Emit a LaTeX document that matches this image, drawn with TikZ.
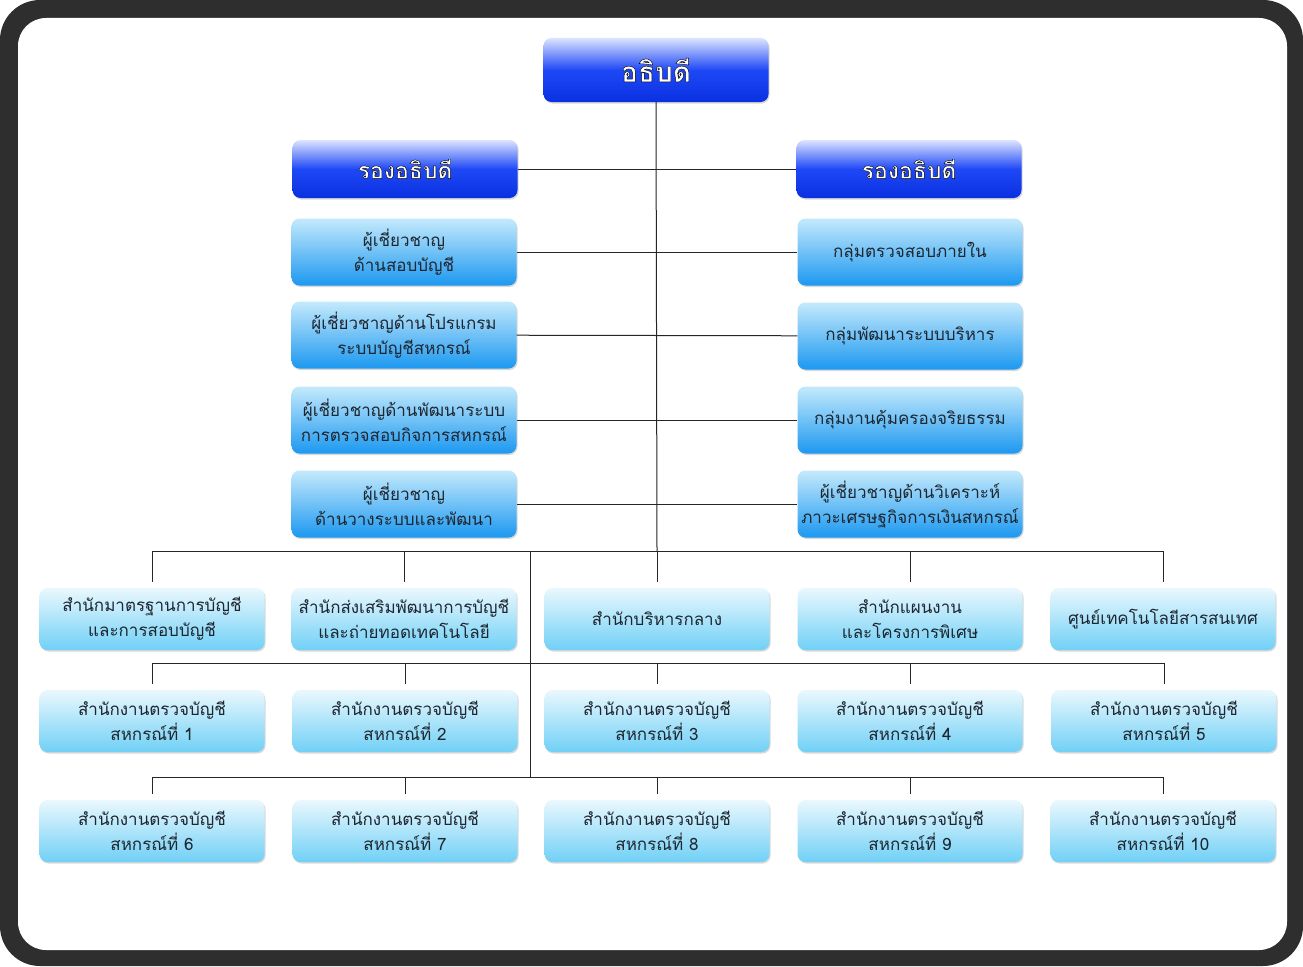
\documentclass[tikz,border=0pt]{standalone}
\usepackage{fontspec}
\usetikzlibrary{shadows}
\newfontfamily\thaifont[Script=Thai]{Loma}
\newfontfamily\headfont[Script=Thai]{Loma Bold}
\definecolor{hdtop}{HTML}{DCE4FF}
\definecolor{hdmid}{HTML}{1E48F6}
\definecolor{hdbot}{HTML}{0A30E0}
\definecolor{mdtop}{HTML}{C4EAFC}
\definecolor{mdbot}{HTML}{1C98F0}
\definecolor{lwtop}{HTML}{EAF8FE}
\definecolor{lwbot}{HTML}{70D0F6}
\definecolor{txt}{HTML}{1E2630}
\definecolor{rim}{HTML}{2E2E2E}
\newcommand{\hdtext}[1]{\textcolor{white}{\special{pdf:literal direct 0 G 0.4 w 1 j 2 Tr}#1\special{pdf:literal direct 0 Tr}}}
\begin{document}
\begin{tikzpicture}[x=1pt,y=-1pt]
	\tikzstyle{base} = [rounded corners=8pt,minimum width=225pt,inner sep=0pt,align=center,text=txt,font=\thaifont\fontsize{17}{25}\selectfont,drop shadow={shadow xshift=1pt,shadow yshift=-1.5pt,opacity=0.3}]
	\tikzstyle{chief} = [base,minimum height=64pt,top color=hdtop,bottom color=hdbot,middle color=hdmid,font=\headfont\fontsize{28}{30}\selectfont]
	\tikzstyle{deputy} = [chief,minimum height=58pt,font=\headfont\fontsize{23}{26}\selectfont]
	\tikzstyle{unit} = [base,minimum height=67pt,top color=mdtop,bottom color=mdbot]
	\tikzstyle{office} = [base,minimum height=62pt,top color=lwtop,bottom color=lwbot]
	\tikzstyle{link} = [draw=black!85,line width=1pt]
	\tikzstyle{drop} = [link,shorten >=6pt]
	
	\useasboundingbox (0,0) rectangle (1303,966);
	\fill[white] (0,0) rectangle (1303,966);
	\fill[rim,rounded corners=40pt] (0,0) rectangle (1303,966);
	\fill[white,rounded corners=28pt] (18,18) rectangle (1287,950);
	
	\node[chief](dg)at (656,70){\hdtext{อธิบดี}};
	\node[deputy](dep-1)at (405,169){\hdtext{รองอธิบดี}};
	\node[deputy](dep-2)at (909,169){\hdtext{รองอธิบดี}};
	
	\node[unit](l-1)at (404,252){ผู้เชี่ยวชาญ\\ด้านสอบบัญชี};
	\node[unit](l-2)at (404,335){ผู้เชี่ยวชาญด้านโปรแกรม\\ระบบบัญชีสหกรณ์};
	\node[unit](l-3)at (404,420){ผู้เชี่ยวชาญด้านพัฒนาระบบ\\การตรวจสอบกิจการสหกรณ์};
	\node[unit](l-4)at (404,504){ผู้เชี่ยวชาญ\\ด้านวางระบบและพัฒนา};
	
	\node[unit](r-1)at (910,252){กลุ่มตรวจสอบภายใน};
	\node[unit](r-2)at (910,336){กลุ่มพัฒนาระบบบริหาร};
	\node[unit](r-3)at (910,420){กลุ่มงานคุ้มครองจริยธรรม};
	\node[unit](r-4)at (910,504){ผู้เชี่ยวชาญด้านวิเคราะห์\\ภาวะเศรษฐกิจการเงินสหกรณ์};
	
	\node[office](o-1-1)at (152,619){สำนักมาตรฐานการบัญชี\\และการสอบบัญชี};
	\node[office](o-1-2)at (404,619){สำนักส่งเสริมพัฒนาการบัญชี\\และถ่ายทอดเทคโนโลยี};
	\node[office](o-1-3)at (657,619){สำนักบริหารกลาง};
	\node[office](o-1-4)at (910,619){สำนักแผนงาน\\และโครงการพิเศษ};
	\node[office](o-1-5)at (1163,619){ศูนย์เทคโนโลยีสารสนเทศ};
	
	\node[office](o-2-1)at (152,721){สำนักงานตรวจบัญชี\\สหกรณ์ที่ 1};
	\node[office](o-2-2)at (405,721){สำนักงานตรวจบัญชี\\สหกรณ์ที่ 2};
	\node[office](o-2-3)at (657,721){สำนักงานตรวจบัญชี\\สหกรณ์ที่ 3};
	\node[office](o-2-4)at (910,721){สำนักงานตรวจบัญชี\\สหกรณ์ที่ 4};
	\node[office](o-2-5)at (1164,721){สำนักงานตรวจบัญชี\\สหกรณ์ที่ 5};
	
	\node[office](o-3-1)at (152,831){สำนักงานตรวจบัญชี\\สหกรณ์ที่ 6};
	\node[office](o-3-2)at (405,831){สำนักงานตรวจบัญชี\\สหกรณ์ที่ 7};
	\node[office](o-3-3)at (657,831){สำนักงานตรวจบัญชี\\สหกรณ์ที่ 8};
	\node[office](o-3-4)at (910,831){สำนักงานตรวจบัญชี\\สหกรณ์ที่ 9};
	\node[office](o-3-5)at (1163,831){สำนักงานตรวจบัญชี\\สหกรณ์ที่ 10};
	
	\coordinate (bus-1) at (0,551);
	\coordinate (bus-2) at (0,663);
	\coordinate (bus-3) at (0,777);
	\coordinate (spine) at (530,551);
	
	\path[link] (dg.south) edge (o-1-3.north |- bus-1)
	(dep-1) edge (dep-2)
	(l-1) edge (r-1)
	(l-2) edge (r-2)
	(l-3) edge (r-3)
	(l-4) edge (r-4);
	
	\draw[link] (o-1-1.north |- bus-1) -- (o-1-5.north |- bus-1);
	\draw[link] (o-2-1.north |- bus-2) -- (o-2-5.north |- bus-2);
	\draw[link] (o-3-1.north |- bus-3) -- (o-3-5.north |- bus-3);
	\draw[link] (spine) -- (spine |- bus-3);
	
	\path[drop] (o-1-1.north |- bus-1) edge (o-1-1.north)
	(o-1-2.north |- bus-1) edge (o-1-2.north)
	(o-1-3.north |- bus-1) edge (o-1-3.north)
	(o-1-4.north |- bus-1) edge (o-1-4.north)
	(o-1-5.north |- bus-1) edge (o-1-5.north)
	(o-2-1.north |- bus-2) edge (o-2-1.north)
	(o-2-2.north |- bus-2) edge (o-2-2.north)
	(o-2-3.north |- bus-2) edge (o-2-3.north)
	(o-2-4.north |- bus-2) edge (o-2-4.north)
	(o-2-5.north |- bus-2) edge (o-2-5.north)
	(o-3-1.north |- bus-3) edge (o-3-1.north)
	(o-3-2.north |- bus-3) edge (o-3-2.north)
	(o-3-3.north |- bus-3) edge (o-3-3.north)
	(o-3-4.north |- bus-3) edge (o-3-4.north)
	(o-3-5.north |- bus-3) edge (o-3-5.north);
	
\end{tikzpicture}
\end{document}
